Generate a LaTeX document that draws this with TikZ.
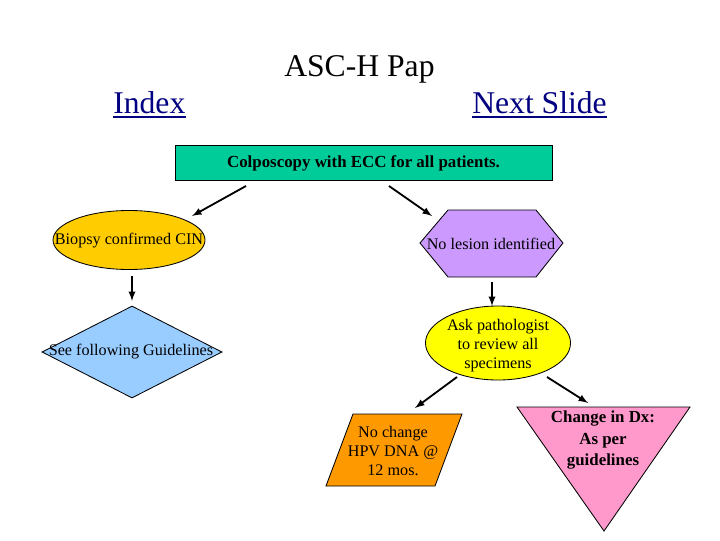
\documentclass[tikz,border=0pt]{standalone}
\usepackage{fontspec}
\setmainfont{Liberation Serif}
\usetikzlibrary{shapes.geometric}

\definecolor{boxgreen}{HTML}{00CC99}
\definecolor{boxgold}{HTML}{FFCC00}
\definecolor{boxblue}{HTML}{99CCFF}
\definecolor{boxlilac}{HTML}{CC99FF}
\definecolor{boxyellow}{HTML}{FFFF00}
\definecolor{boxorange}{HTML}{FF9900}
\definecolor{boxpink}{HTML}{FF99CC}
\definecolor{linkblue}{HTML}{000080}

\begin{document}
\begin{tikzpicture}[x=0.025cm,y=-0.025cm,>=latex,
    shp/.style={draw, line width=0.6pt, inner sep=0pt},
    lbl/.style={font=\fontsize{11.5}{13.5}\selectfont, align=center, inner sep=0pt},
    blbl/.style={font=\bfseries\fontsize{12}{15.6}\selectfont, align=center, inner sep=0pt},
    flow/.style={->, line width=1.3pt}]
  \useasboundingbox (0,0) rectangle (720,540);

  % Title and links
  \node[font=\fontsize{22.5}{27}\selectfont, inner sep=0pt, anchor=base west] (title) at (284,76) {ASC-H Pap};
  \node[font=\fontsize{22.5}{27}\selectfont, text=linkblue, inner sep=0pt, anchor=base west] (index) at (113,113) {Index};
  \node[font=\fontsize{22.5}{27}\selectfont, text=linkblue, inner sep=0pt, anchor=base west] (next) at (472,113) {Next Slide};
  \draw[linkblue, line width=1.4pt] ([yshift=-2.8pt]index.base west) -- ([yshift=-2.8pt]index.base east);
  \draw[linkblue, line width=1.4pt] ([yshift=-2.8pt]next.base west) -- ([yshift=-2.8pt]next.base east);

  % Top box
  \node[shp, rectangle, fill=boxgreen, minimum width=9.425cm, minimum height=0.875cm] (colpo) at (363.5,162.5) {};
  \node[blbl] (colpotxt) at (363.5,163) {Colposcopy with ECC for all patients.};

  % Left branch
  \node[shp, ellipse, fill=boxgold, minimum width=3.8cm, minimum height=1.475cm] (biopsy) at (129,240) {};
  \node[lbl] (biopsytxt) at (129,241) {Biopsy confirmed CIN};
  \node[shp, diamond, fill=boxblue, minimum width=4.5cm, minimum height=2.3cm] (guide) at (132,352) {};
  \node[lbl] (guidetxt) at (131,352) {See following Guidelines};

  % Right branch
  \coordinate (h1) at (420,243);
  \coordinate (h2) at (448,210);
  \coordinate (h3) at (536,210);
  \coordinate (h4) at (563,243);
  \coordinate (h5) at (536,277);
  \coordinate (h6) at (448,277);
  \draw[fill=boxlilac, line width=0.6pt] (h1) -- (h2) -- (h3) -- (h4) -- (h5) -- (h6) -- cycle;
  \node[lbl] (lesiontxt) at (491,244) {No lesion identified};
  \node[shp, ellipse, fill=boxyellow, minimum width=3.625cm, minimum height=1.85cm] (ask) at (498,343) {};
  \node[lbl] (asktxt) at (498,346) {Ask pathologist\\to review all\\specimens};

  % Outcomes
  \coordinate (p1) at (353,414);
  \coordinate (p2) at (462,414);
  \coordinate (p3) at (435,486);
  \coordinate (p4) at (326,486);
  \draw[fill=boxorange, line width=0.6pt] (p1) -- (p2) -- (p3) -- (p4) -- cycle;
  \node[lbl] (nochangetxt) at (393,451) {No change\\HPV DNA @\\12 mos.};
  \coordinate (t1) at (517,407);
  \coordinate (t2) at (690,407);
  \coordinate (t3) at (604,531);
  \draw[fill=boxpink, line width=0.6pt] (t1) -- (t2) -- (t3) -- cycle;
  \node[blbl] (changetxt) at (603,440) {Change in Dx:\\As per\\guidelines};

  % Flow arrows
  \coordinate (a1s) at (246,186); \coordinate (a1e) at (192,216);
  \coordinate (a2s) at (389,186); \coordinate (a2e) at (432,216);
  \coordinate (a3s) at (132,276); \coordinate (a3e) at (132,301);
  \coordinate (a4s) at (492,282); \coordinate (a4e) at (492,306);
  \coordinate (a5s) at (457,377); \coordinate (a5e) at (415,408);
  \coordinate (a6s) at (547,377); \coordinate (a6e) at (588,403);
  \draw[flow] (a1s) -- (a1e);
  \draw[flow] (a2s) -- (a2e);
  \draw[flow] (a3s) -- (a3e);
  \draw[flow] (a4s) -- (a4e);
  \draw[flow] (a5s) -- (a5e);
  \draw[flow] (a6s) -- (a6e);
\end{tikzpicture}
\end{document}
